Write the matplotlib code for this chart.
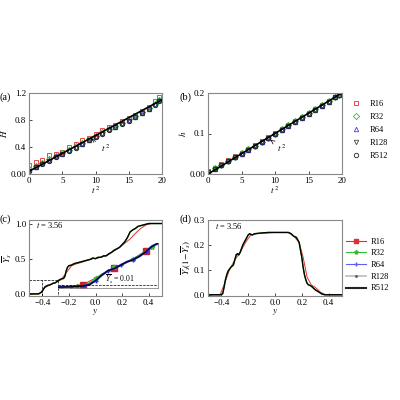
import matplotlib
matplotlib.use('Agg')
import matplotlib.pyplot as plt
from matplotlib.lines import Line2D

plt.rcParams['font.family'] = ['Liberation Serif', 'DejaVu Serif']
plt.rcParams['mathtext.fontset'] = 'stix'
plt.rcParams['font.size'] = 6.5

# ---- panel (a) / (b) data ----
t2 = [0, 1, 2, 3, 4, 5, 6, 7, 8, 9, 10, 11, 12, 13, 14, 15, 16, 17, 18, 19, 19.5]
H_R16 = [0.13, 0.18, 0.21, 0.28, 0.30, 0.33, 0.40, 0.44, 0.50, 0.54, 0.60, 0.65, 0.70, 0.73, 0.78, 0.83, 0.88, 0.94, 1.00, 1.08, 1.14]
H_R32 = [0.08, 0.12, 0.17, 0.22, 0.27, 0.31, 0.36, 0.41, 0.46, 0.52, 0.57, 0.62, 0.67, 0.71, 0.76, 0.81, 0.86, 0.92, 0.98, 1.04, 1.10]
H_R64 = [0.06, 0.11, 0.16, 0.21, 0.26, 0.30, 0.35, 0.40, 0.45, 0.51, 0.56, 0.61, 0.66, 0.70, 0.75, 0.80, 0.85, 0.91, 0.97, 1.03, 1.09]
H_R128 = [0.05, 0.10, 0.15, 0.20, 0.25, 0.29, 0.34, 0.39, 0.44, 0.50, 0.55, 0.60, 0.65, 0.69, 0.74, 0.79, 0.84, 0.90, 0.96, 1.02, 1.08]
H_R512 = [0.05, 0.10, 0.15, 0.20, 0.25, 0.29, 0.34, 0.39, 0.44, 0.50, 0.55, 0.60, 0.65, 0.69, 0.74, 0.79, 0.84, 0.90, 0.96, 1.02, 1.08]
H_line = [0.04, 1.10]
h_R16 = [0.008, 0.016, 0.025, 0.035, 0.044, 0.053, 0.062, 0.071, 0.081, 0.091, 0.101, 0.111, 0.121, 0.131, 0.141, 0.151, 0.161, 0.171, 0.181, 0.191, 0.196]
h_R32 = [0.006, 0.014, 0.023, 0.033, 0.042, 0.051, 0.061, 0.070, 0.080, 0.090, 0.100, 0.110, 0.120, 0.130, 0.140, 0.150, 0.160, 0.170, 0.180, 0.190, 0.195]
h_R64 = [0.005, 0.013, 0.022, 0.032, 0.041, 0.050, 0.060, 0.069, 0.079, 0.089, 0.099, 0.109, 0.119, 0.129, 0.139, 0.149, 0.159, 0.169, 0.179, 0.189, 0.194]
h_R128 = h_R64
h_R512 = h_R64
h_line = [0.0, 0.2]

# ---- panel (c) data ----
y_fine = [-0.5, -0.43, -0.41, -0.40, -0.39, -0.38, -0.36, -0.34, -0.32, -0.30, -0.28, -0.26, -0.24, -0.23, -0.22, -0.21,
          -0.20, -0.18, -0.16, -0.14, -0.12, -0.10, -0.08, -0.06, -0.04, -0.02, 0.0, 0.02, 0.04, 0.06, 0.08, 0.10,
          0.12, 0.14, 0.16, 0.18, 0.20, 0.22, 0.24, 0.26, 0.28, 0.30, 0.32, 0.34, 0.36, 0.40, 0.5]
Y_fine = [0.0, 0.0, 0.02, 0.04, 0.07, 0.10, 0.12, 0.13, 0.15, 0.16, 0.19, 0.21, 0.22, 0.25, 0.33, 0.38,
          0.40, 0.41, 0.43, 0.44, 0.45, 0.46, 0.47, 0.48, 0.49, 0.51, 0.50, 0.52, 0.52, 0.54, 0.54, 0.57,
          0.59, 0.62, 0.64, 0.66, 0.70, 0.74, 0.80, 0.88, 0.91, 0.93, 0.96, 0.97, 0.98, 1.0, 1.0]
y_R16 = [-0.5, -0.42, -0.38, -0.34, -0.30, -0.26, -0.22, -0.18, -0.14, -0.10, -0.06, -0.02, 0.02, 0.06, 0.10,
         0.14, 0.18, 0.22, 0.26, 0.30, 0.34, 0.38, 0.42, 0.5]
Y_R16 = [0.0, 0.0, 0.09, 0.13, 0.16, 0.20, 0.30, 0.40, 0.43, 0.45, 0.48, 0.50, 0.51, 0.53, 0.56,
         0.61, 0.66, 0.72, 0.78, 0.86, 0.93, 0.98, 1.0, 1.0]

# inset (zoom of the toe of the profile)
yi_fine = [-0.43, -0.42, -0.41, -0.40, -0.39, -0.38, -0.37, -0.36, -0.35, -0.34, -0.33, -0.32, -0.31, -0.30, -0.29, -0.28, -0.27]
Yi_fine = [0.0, 0.001, 0.002, 0.003, 0.005, 0.012, 0.03, 0.055, 0.075, 0.085, 0.10, 0.115, 0.125, 0.14, 0.16, 0.185, 0.20]
Yi_R32 = [0.0, 0.001, 0.002, 0.004, 0.008, 0.02, 0.04, 0.06, 0.075, 0.09, 0.10, 0.115, 0.13, 0.145, 0.165, 0.185, 0.20]
yi_R16 = [-0.43, -0.41, -0.39, -0.365, -0.34, -0.315, -0.29, -0.27]
Yi_R16 = [0.0, 0.005, 0.012, 0.05, 0.085, 0.12, 0.165, 0.20]
yi_sq = [-0.39, -0.34, -0.29]
Yi_sq = [0.012, 0.085, 0.165]

# ---- panel (d) data ----
y_d = [-0.5, -0.40, -0.39, -0.38, -0.37, -0.36, -0.35, -0.33, -0.31, -0.29, -0.28, -0.27, -0.26, -0.24, -0.22, -0.20,
       -0.19, -0.17, -0.15, -0.10, -0.05, 0.0, 0.05, 0.10, 0.12, 0.14, 0.16, 0.18, 0.19, 0.20, 0.21, 0.22,
       0.23, 0.24, 0.25, 0.27, 0.30, 0.33, 0.35, 0.37, 0.5]
F_d = [0.0, 0.0, 0.005, 0.03, 0.06, 0.08, 0.095, 0.11, 0.12, 0.16, 0.165, 0.16, 0.17, 0.20, 0.22, 0.24,
       0.245, 0.24, 0.245, 0.248, 0.25, 0.25, 0.25, 0.25, 0.245, 0.235, 0.23, 0.21, 0.18, 0.15, 0.11, 0.08,
       0.06, 0.045, 0.04, 0.035, 0.02, 0.01, 0.003, 0.0, 0.0]
y_d16 = [-0.5, -0.41, -0.38, -0.34, -0.30, -0.26, -0.22, -0.18, -0.14, 0.0, 0.10, 0.14, 0.18, 0.21, 0.24,
         0.27, 0.30, 0.34, 0.38, 0.5]
F_d16 = [0.0, 0.0, 0.04, 0.10, 0.14, 0.17, 0.21, 0.24, 0.245, 0.25, 0.25, 0.235, 0.21, 0.15, 0.07,
         0.04, 0.03, 0.01, 0.0, 0.0]

names = ['R16', 'R32', 'R64', 'R128', 'R512']
mcols = ['#e03030', '#30c030', '#4040e0', '#444444', '#222222']
mkrs = ['s', 'D', '^', 'v', 'o']

fig = plt.figure(figsize=(4, 4), dpi=100)
ax_a = fig.add_axes([0.0725, 0.565, 0.3325, 0.2025])
ax_b = fig.add_axes([0.52, 0.565, 0.335, 0.2025])
ax_c = fig.add_axes([0.0725, 0.26, 0.3325, 0.19])
ax_d = fig.add_axes([0.52, 0.26, 0.335, 0.19])

for ax in [ax_a, ax_b, ax_c, ax_d]:
    for s in ax.spines.values():
        s.set_color('#888888')
    ax.tick_params(direction='in', length=2, width=0.5, pad=2)

# (a)
Hs = [H_R16, H_R32, H_R64, H_R128, H_R512]
for i in range(5):
    ax_a.plot(t2, Hs[i], mkrs[i], ms=3.2, mfc='none', mec=mcols[i], mew=0.6)
ax_a.plot([0, 20], H_line, 'k-', lw=1.2)
ax_a.annotate('$t^{\\,2}$', xy=(9, 0.55), xytext=(10.8, 0.33), arrowprops=dict(arrowstyle='->', lw=0.5))
ax_a.set_xlim(0, 20)
ax_a.set_ylim(0, 1.2)
ax_a.set_xticks([0, 5, 10, 15, 20])
ax_a.set_yticks([0, 0.4, 0.8, 1.2])
ax_a.set_yticklabels(['0.00', '0.4', '0.8', '1.2'])
ax_a.set_xlabel('$t^{\\,2}$', labelpad=0)
ax_a.set_ylabel('$H$', labelpad=1)

# (b)
hs = [h_R16, h_R32, h_R64, h_R128, h_R512]
hb = []
for i in range(5):
    l, = ax_b.plot(t2, hs[i], mkrs[i], ms=3.2, mfc='none', mec=mcols[i], mew=0.6, label=names[i])
    hb.append(l)
ax_b.plot([0, 20], h_line, 'k-', lw=1.2)
ax_b.annotate('$t^{\\,2}$', xy=(9, 0.088), xytext=(10.3, 0.055), arrowprops=dict(arrowstyle='->', lw=0.5))
ax_b.set_xlim(0, 20)
ax_b.set_ylim(0, 0.2)
ax_b.set_xticks([0, 5, 10, 15, 20])
ax_b.set_yticks([0, 0.1, 0.2])
ax_b.set_yticklabels(['0.00', '0.1', '0.2'])
ax_b.set_xlabel('$t^{\\,2}$', labelpad=0)
ax_b.set_ylabel('$h$', labelpad=1)
fig.legend(handles=hb, loc='upper left', bbox_to_anchor=(0.86, 0.77), frameon=False,
           handlelength=1.0, handletextpad=1.2, labelspacing=0.6, fontsize=6)

# (c)
ax_c.plot(y_R16, Y_R16, color='#e03030', lw=0.7)
ax_c.plot(y_fine, Y_fine, color='#30c030', lw=0.9)
ax_c.plot(y_fine, Y_fine, 'k-', lw=1.0)
ax_c.set_xlim(-0.5, 0.5)
ax_c.set_ylim(-0.03, 1.05)
ax_c.set_xticks([-0.4, -0.2, 0.0, 0.2, 0.4])
ax_c.set_yticks([0, 0.5, 1.0])
ax_c.set_xlabel('$y$', labelpad=0)
ax_c.set_ylabel('$\\overline{Y}_s$', labelpad=1)
ax_c.text(-0.45, 0.93, '$t$ = 3.56', fontsize=6)
ax_c.plot([-0.5, -0.28, -0.28], [0.2, 0.2, -0.03], 'k--', lw=0.5)
ax_c.plot([-0.4, -0.4], [-0.03, 0.2], 'k--', lw=0.5)
ax_c.plot([-0.28, -0.5], [-0.03, -0.03], 'k--', lw=0.5)
ax_c.annotate('', xy=(-0.2, 0.1), xytext=(-0.28, 0.1), arrowprops=dict(arrowstyle='->', lw=0.5))

ins = ax_c.inset_axes([-0.28, 0.08, 0.75, 0.64], transform=ax_c.transData)
ins.patch.set_alpha(0)
for k in ['top', 'left']:
    ins.spines[k].set_visible(False)
for k in ['bottom', 'right']:
    ins.spines[k].set_color('#888888')
    ins.spines[k].set_linewidth(0.6)
ins.set_xticks([])
ins.set_yticks([])
ins.plot(yi_R16, Yi_R16, color='#e03030', lw=0.7)
ins.plot(yi_sq, Yi_sq, 's', color='#d02020', ms=4.5)
ins.plot(yi_fine, Yi_R32, color='#30c030', lw=0.8, marker='*', ms=3.5, markevery=3)
ins.plot(yi_fine, Yi_fine, color='#3030e0', lw=1.6, marker='+', ms=3, markevery=2)
ins.plot(yi_fine, Yi_fine, 'k-', lw=0.8)
ins.axhline(0.01, color='k', ls='--', lw=0.5)
ins.text(-0.355, 0.02, '$\\overline{Y}_s$ = 0.01', fontsize=5.5)
ins.set_xlim(-0.43, -0.27)
ins.set_ylim(-0.005, 0.2)

# (d)
ax_d.plot(y_d16, F_d16, color='#e03030', lw=0.7)
ax_d.plot(y_d, F_d, color='#30c030', lw=0.9)
ax_d.plot(y_d, F_d, 'k-', lw=1.0)
ax_d.set_xlim(-0.5, 0.5)
ax_d.set_ylim(-0.005, 0.3)
ax_d.set_xticks([-0.4, -0.2, 0.0, 0.2, 0.4])
ax_d.set_yticks([0, 0.1, 0.2, 0.3])
ax_d.set_yticklabels(['0.0', '0.1', '0.2', '0.3'])
ax_d.set_xlabel('$y$', labelpad=0)
ax_d.set_ylabel('$\\overline{Y}_s(1\\!-\\!\\overline{Y}_s)$', labelpad=1)
ax_d.text(-0.45, 0.265, '$t$ = 3.56', fontsize=6)

hl = [Line2D([], [], color='#e03030', marker='s', ms=3, lw=0.8),
      Line2D([], [], color='#30c030', marker='*', ms=3, lw=0.8),
      Line2D([], [], color='#6060f0', marker='+', ms=3, lw=0.8),
      Line2D([], [], color='#bbbbbb', marker='.', ms=2, mfc='#555555', mec='#555555', lw=1.2),
      Line2D([], [], color='#222222', lw=1.5)]
fig.legend(handles=hl, labels=names, loc='upper left', bbox_to_anchor=(0.845, 0.425), frameon=False,
           handlelength=2.5, handletextpad=0.5, labelspacing=0.45, fontsize=6)

fig.text(0.0, 0.77, '(a)', fontsize=7.5, va='top')
fig.text(0.45, 0.77, '(b)', fontsize=7.5, va='top')
fig.text(0.0, 0.465, '(c)', fontsize=7.5, va='top')
fig.text(0.45, 0.465, '(d)', fontsize=7.5, va='top')

fig.savefig('out.png', dpi=100)
